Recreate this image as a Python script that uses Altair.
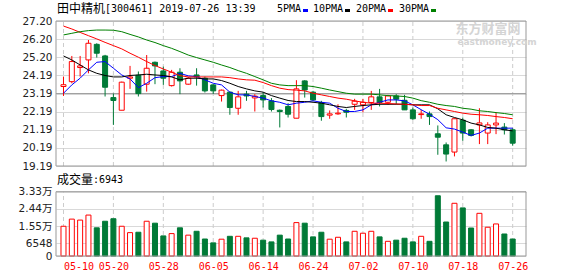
import json
import altair as alt
import pandas as pd

# ---------------- data ----------------
dates = ["05-10", "05-13", "05-14", "05-15", "05-16", "05-17", "05-20", "05-21", "05-22", "05-23",
         "05-24", "05-27", "05-28", "05-29", "05-30", "05-31", "06-03", "06-04", "06-05", "06-06",
         "06-10", "06-11", "06-12", "06-13", "06-14", "06-17", "06-18", "06-19", "06-20", "06-21",
         "06-24", "06-25", "06-26", "06-27", "06-28", "07-01", "07-02", "07-03", "07-04", "07-05",
         "07-08", "07-09", "07-10", "07-11", "07-12", "07-15", "07-16", "07-17", "07-18", "07-19",
         "07-22", "07-23", "07-24", "07-25", "07-26"]

opens = [23.58, 23.85, 24.63, 25.05, 25.91, 25.27, 22.97, 22.27, 24.04, 24.20,
         23.71, 24.92, 24.44, 23.63, 24.37, 23.71, 24.22, 24.04, 23.67, 23.08,
         23.27, 22.38, 23.16, 22.95, 23.08, 22.79, 22.27, 22.48, 21.83, 23.89,
         23.27, 22.70, 22.00, 22.07, 22.26, 22.60, 22.57, 22.70, 23.01, 22.71,
         23.06, 22.82, 22.29, 22.03, 22.07, 20.97, 20.36, 19.96, 21.72, 21.19,
         21.46, 21.01, 21.46, 21.34, 21.19]
closes = [23.68, 24.96, 24.72, 25.97, 25.42, 23.54, 22.81, 23.82, 24.11, 23.19,
          24.59, 24.72, 24.04, 24.37, 23.89, 24.04, 24.11, 23.34, 23.34, 23.38,
          22.42, 23.01, 23.06, 23.05, 22.84, 22.31, 22.20, 22.05, 23.45, 23.39,
          22.84, 21.92, 22.07, 22.11, 22.16, 22.77, 22.71, 23.01, 22.70, 23.06,
          22.88, 22.29, 21.80, 22.07, 21.92, 20.78, 19.85, 21.80, 21.01, 20.88,
          21.57, 21.46, 21.56, 21.19, 20.45]
highs = [24.13, 25.27, 25.27, 26.15, 25.97, 25.33, 23.19, 23.85, 24.72, 24.41,
         25.32, 24.96, 24.68, 24.50, 24.59, 24.10, 24.59, 24.13, 23.71, 23.41,
         23.30, 23.34, 23.34, 23.16, 23.27, 22.94, 22.31, 22.66, 23.93, 23.93,
         23.34, 22.79, 22.26, 22.60, 22.35, 22.90, 22.90, 23.34, 23.45, 23.12,
         23.16, 23.12, 22.42, 22.29, 22.20, 21.43, 20.49, 21.83, 21.87, 21.23,
         22.38, 21.61, 22.15, 21.56, 21.28]
lows = [23.06, 23.76, 24.13, 24.31, 25.18, 23.03, 21.46, 22.27, 23.45, 23.03,
        23.30, 23.71, 23.67, 23.58, 23.16, 23.68, 23.63, 23.25, 23.17, 22.75,
        22.02, 22.02, 22.79, 22.20, 22.42, 22.20, 21.32, 21.87, 21.83, 22.97,
        22.79, 21.69, 21.80, 22.02, 21.87, 22.29, 22.16, 22.29, 22.48, 22.57,
        22.60, 22.29, 21.74, 21.80, 21.46, 19.81, 19.44, 19.72, 20.58, 20.82,
        20.40, 20.40, 20.95, 20.93, 20.31]
volumes = [15400, 19100, 18600, 21200, 14600, 18000, 19300, 15400, 12100, 12300,
           18000, 17000, 10400, 11600, 14600, 10800, 12800, 8800, 6800, 8700,
           10200, 10200, 9400, 9200, 8200, 7300, 10800, 8800, 17300, 17000,
           9900, 12300, 8700, 9700, 7300, 12800, 11800, 12800, 9900, 7600,
           8200, 9200, 7300, 10200, 7600, 31200, 17600, 27300, 24900, 14500,
           22100, 14900, 16600, 11400, 8800]

ma5 = [23.21, 23.67, 24.04, 24.50, 24.92, 24.96, 24.59, 24.22, 24.00, 23.52,
       23.76, 24.07, 24.13, 24.13, 24.31, 24.17, 24.13, 23.95, 23.76, 23.67,
       23.27, 23.12, 23.12, 23.03, 22.94, 22.79, 22.71, 22.57, 22.66, 22.71,
       22.79, 22.71, 22.66, 22.38, 22.20, 22.20, 22.29, 22.57, 22.71, 22.84,
       22.84, 22.79, 22.57, 22.30, 22.05, 21.75, 21.30, 21.23, 21.06, 20.88,
       21.01, 21.28, 21.28, 21.28, 21.28]
ma10 = [25.27, 25.05, 24.77, 24.50, 24.31, 24.19, 24.11, 24.11, 24.19, 24.22,
        24.26, 24.22, 24.19, 24.11, 23.95, 24.04, 24.04, 24.00, 24.00, 23.91,
        23.76, 23.58, 23.45, 23.34, 23.27, 23.08, 22.94, 22.81, 22.75, 22.75,
        22.71, 22.66, 22.57, 22.48, 22.42, 22.48, 22.53, 22.57, 22.60, 22.60,
        22.60, 22.60, 22.57, 22.57, 22.57, 22.35, 22.02, 21.87, 21.74, 21.56,
        21.46, 21.32, 21.28, 21.19, 21.13]
ma20 = [26.92, 26.76, 26.57, 26.39, 26.21, 26.02, 25.84, 25.66, 25.42, 25.20,
        24.96, 24.74, 24.55, 24.37, 24.18, 24.11, 24.11, 24.11, 24.11, 24.11,
        24.07, 24.00, 23.95, 23.93, 23.80, 23.63, 23.49, 23.41, 23.38, 23.34,
        23.21, 23.12, 23.03, 22.94, 22.88, 22.79, 22.71, 22.66, 22.66, 22.64,
        22.62, 22.60, 22.57, 22.53, 22.53, 22.38, 22.29, 22.20, 22.11, 22.05,
        22.02, 21.98, 21.92, 21.87, 21.80]
ma30 = [26.43, 26.52, 26.61, 26.67, 26.70, 26.70, 26.69, 26.61, 26.46, 26.32,
        26.15, 26.01, 25.84, 25.69, 25.51, 25.32, 25.18, 25.05, 24.92, 24.77,
        24.63, 24.46, 24.31, 24.13, 23.95, 23.76, 23.67, 23.63, 23.63, 23.63,
        23.58, 23.49, 23.39, 23.30, 23.21, 23.16, 23.16, 23.16, 23.12, 23.08,
        23.06, 23.03, 22.94, 22.80, 22.71, 22.60, 22.53, 22.48, 22.38, 22.33,
        22.24, 22.20, 22.14, 22.09, 22.02]

ma_names = ["5PMA", "10PMA", "20PMA", "30PMA"]
ma_colors = ["#0000ff", "#000000", "#ff0000", "#008000"]
tick_idx = [0, 6, 12, 18, 24, 30, 36, 42, 48, 54]
price_ticks = [19.19, 20.19, 21.19, 22.19, 23.19, 24.19, 25.20, 26.20, 27.20]
prev_close_line = 23.19
vol_ticks = [0, 6548, 15500, 24400, 33300]
title_name = "田中精机"
title_rest = "[300461] 2019-07-26 13:39"
vol_title = "成交量"
vol_last = ":6943"

# ---------------- frames ----------------
n = len(dates)
df = pd.DataFrame({"idx": list(range(n)), "date": dates, "open": opens, "high": highs,
                   "low": lows, "close": closes, "vol": volumes})
df["dir"] = ["up" if c >= o else "down" for o, c in zip(opens, closes)]
ma_df = pd.concat([pd.DataFrame({"idx": list(range(n)), "ma": nm, "value": v})
                   for nm, v in zip(ma_names, [ma5, ma10, ma20, ma30])], ignore_index=True)
grid_df = pd.DataFrame({"idx": tick_idx})
one = pd.DataFrame({"a": [0]})

RED = "#ff0000"
GREEN = "#007a37"
MONO = "DejaVu Sans Mono, Noto Sans CJK SC"
SANS = "DejaVu Sans, Noto Sans CJK SC"
CJK = "Noto Sans CJK SC"
W, H = 470, 235
P_H = 145
V_TOP = 170.7

xs = alt.Scale(domain=[-0.3, 55.0], nice=False, zero=False)
x_axis = alt.Axis(values=tick_idx, labelExpr=json.dumps(dates) + "[datum.value]",
                  domain=False, ticks=False, grid=False, labelColor=RED, labelFont=MONO,
                  labelFontSize=10, labelPadding=5, labelBaseline="top", labelFlush=False,
                  labelOverlap=False,
                  labelAlign={"condition": {"test": "datum.value === 0", "value": "left"},
                              "value": "center"})


def X():
    return alt.X("idx:Q", scale=xs, axis=x_axis, title=None)


ys_p = alt.Scale(domain=[price_ticks[0], price_ticks[-1]], range=[P_H, 0], nice=False, zero=False)
y_axis_p = alt.Axis(values=price_ticks, format=".2f", domain=False, ticks=False, grid=True,
                    gridColor="#d9d9d9", gridWidth=1, labelFont=SANS, labelFontSize=10.5,
                    labelColor="#222222", labelPadding=4, orient="left", labelOverlap=False)
ys_v = alt.Scale(domain=[0, vol_ticks[-1]], range=[H, V_TOP], nice=False, zero=False)
y_axis_v = alt.Axis(values=vol_ticks, domain=False, ticks=False, grid=True,
                    gridColor="#d9d9d9", gridWidth=1, labelFont=SANS, labelFontSize=10.5,
                    labelColor="#222222", labelPadding=4, orient="left", labelOverlap=False,
                    labelExpr="datum.value == 0 ? '0' : (datum.value < 10000 ? format(datum.value, 'd') : format(datum.value / 10000, '.2f') + '万')")

dir_fill = alt.Scale(domain=["up", "down"], range=["#ffffff", GREEN])
dir_stroke = alt.Scale(domain=["up", "down"], range=[RED, GREEN])


def YP(field):
    return alt.Y(field, scale=ys_p, axis=y_axis_p, title=None)


# ---------------- price panel ----------------
vgrid_p = alt.Chart(grid_df).mark_rule(strokeDash=[4, 3], color="#cccccc", strokeWidth=1).encode(
    x=X(), y=YP("p0:Q"), y2="p1:Q").transform_calculate(p0=str(price_ticks[0]), p1=str(price_ticks[-1]))
ref_line = alt.Chart(pd.DataFrame({"v": [prev_close_line]})).mark_rule(
    color="#999999", strokeWidth=1).encode(y=YP("v:Q"))
wick = alt.Chart(df).mark_rule(strokeWidth=1).encode(
    x=X(), y=YP("low:Q"), y2="high:Q",
    stroke=alt.Stroke("dir:N", scale=dir_stroke, legend=None))
body = alt.Chart(df).mark_bar(size=5, strokeWidth=1, orient="vertical").encode(
    x=X(), y=YP("open:Q"), y2="close:Q",
    fill=alt.Fill("dir:N", scale=dir_fill, legend=None),
    stroke=alt.Stroke("dir:N", scale=dir_stroke, legend=None))
lines = alt.Chart(ma_df).mark_line(strokeWidth=1).encode(
    x=X(), y=YP("value:Q"),
    color=alt.Color("ma:N", scale=alt.Scale(domain=ma_names, range=ma_colors), legend=None))
frame_p = alt.Chart(one).mark_rect(fill="transparent", stroke="#999999", strokeWidth=1).encode(
    x=alt.value(0), x2=alt.value(W), y=alt.value(0), y2=alt.value(P_H))
price = alt.layer(vgrid_p, ref_line, wick, body, lines, frame_p)


# ---------------- volume panel ----------------
def YV(field):
    return alt.Y(field, scale=ys_v, axis=y_axis_v, title=None)


vgrid_v = alt.Chart(grid_df).mark_rule(strokeDash=[4, 3], color="#cccccc", strokeWidth=1).encode(
    x=X(), y=YV("v0:Q"), y2="v1:Q").transform_calculate(v0="0", v1=str(vol_ticks[-1]))
vbars = alt.Chart(df).mark_bar(size=5, strokeWidth=1, orient="vertical").encode(
    x=X(), y=YV("vol:Q"), y2="base:Q",
    fill=alt.Fill("dir:N", scale=dir_fill, legend=None),
    stroke=alt.Stroke("dir:N", scale=dir_stroke, legend=None)).transform_calculate(base="0")
frame_v = alt.Chart(one).mark_rect(fill="transparent", stroke="#999999", strokeWidth=1).encode(
    x=alt.value(0), x2=alt.value(W), y=alt.value(V_TOP), y2=alt.value(H))
vol = alt.layer(vgrid_v, vbars, frame_v)


# ---------------- texts ----------------
def txt(s, x, y, font, size, color="#000000", align="left", weight="normal"):
    return alt.Chart(one).mark_text(text=s, font=font, fontSize=size, color=color, align=align,
                                    baseline="middle", fontWeight=weight).encode(
        x=alt.value(x), y=alt.value(y))


decor = [
    txt(title_name, 1, -12, CJK, 12),
    txt(title_rest, 49, -12, MONO, 10),
    txt(vol_title, 1, 158.5, CJK, 12),
    txt(vol_last, 37, 158.5, MONO, 10),
    txt("东方财富网", 432, 7.5, CJK, 13, "#d4d4d4", "center", "bold"),
    txt("eastmoney.com", 441, 20.5, "DejaVu Sans", 9, "#d4d4d4", "center", "bold"),
]
for nm, col, tx, sx in zip(ma_names, ma_colors, [221, 257, 300, 343], [247, 289, 332, 375]):
    decor.append(txt(nm, tx, -12, MONO, 10))
    decor.append(alt.Chart(one).mark_rect(color=col).encode(
        x=alt.value(sx), x2=alt.value(sx + 5), y=alt.value(-12), y2=alt.value(-9)))

chart = alt.layer(price, vol, *decor).resolve_scale(y="independent").properties(
    width=W, height=H,
    padding={"left": 56, "top": 21, "right": 52, "bottom": 20},
    autosize=alt.AutoSizeParams(type="none"),
    background="white",
).configure_view(strokeWidth=0)

chart.save("out.html", embed_options={"renderer": "svg", "actions": False})
